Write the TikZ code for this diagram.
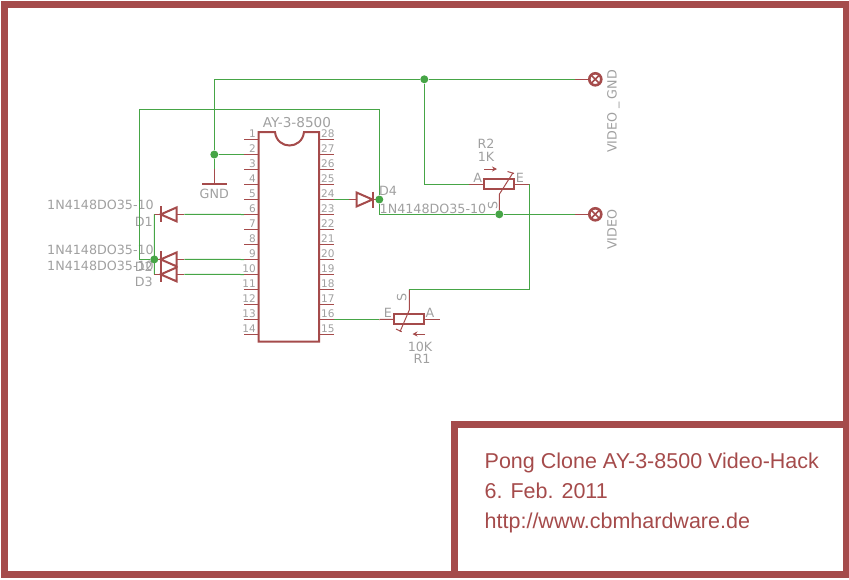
\documentclass[tikz,border=0pt]{standalone}
\usepackage{fontspec}
\setmainfont{Liberation Sans}
\newfontfamily\labelfont{DejaVu Sans}
\usetikzlibrary{arrows.meta}
\definecolor{symred}{RGB}{165,75,75}
\definecolor{netgreen}{RGB}{70,165,70}
\definecolor{txtgray}{RGB}{160,160,160}
\tikzset{
  wire/.style={netgreen,line width=1pt},
  lead/.style={symred,line width=1pt},
  body/.style={symred,line width=2pt},
  junction/.style={circle,fill=netgreen,draw=none,minimum size=8pt,inner sep=0pt},
  terminal/.style={circle,draw=symred,line width=2.6pt,minimum size=12pt,inner sep=0pt,
    path picture={\draw[symred,line width=1.6pt] (path picture bounding box.north west) -- (path picture bounding box.south east)
      (path picture bounding box.north east) -- (path picture bounding box.south west);}},
  name text/.style={txtgray,inner sep=0pt,font=\labelfont\fontsize{12.7}{14}\selectfont},
  pin text/.style={txtgray,inner sep=0pt,font=\labelfont\fontsize{10.5}{12}\selectfont},
  title text/.style={symred,inner sep=0pt,anchor=base west,font=\fontsize{21.5}{24}\selectfont},
  pics/diode/.style={code={
    \draw[body] (0,-8) -- (0,8);
    \draw[body,line join=miter] (0,0) -- (16,-7) -- (16,7) -- cycle;
  }},
}
\begin{document}
\begin{tikzpicture}[x=1pt,y=-1pt]
\useasboundingbox (0,0) rectangle (849,579);
% frame
\draw[symred,line width=6.5pt] (4.5,4.5) rectangle (846,574.5);
\draw[symred,line width=6.5pt] (454.5,574.5) -- (454.5,424.5) -- (846,424.5);
\node[title text] (title1) at (484.5,468) {Pong Clone AY-3-8500 Video-Hack};
\node[title text] (title2) at (484.5,498) {6. Feb. 2011};
\node[title text] (title3) at (484.5,528) {http://www.cbmhardware.de};

% IC
\draw[body] (258.5,341.5) -- (258.5,132) -- (275,132) .. controls (277,150) and (302,150) .. (304,132) -- (319,132) -- (319,341.5) -- cycle;
\node[name text,anchor=base,font=\labelfont\fontsize{13.6}{14}\selectfont] (ic) at (297,127.8) {AY-3-8500};
\foreach \n in {1,...,14} {
  \pgfmathtruncatemacro{\m}{29-\n}
  \pgfmathsetmacro{\y}{139.5+15*(\n-1)}
  \coordinate (p\n) at (244,\y);
  \coordinate (p\m) at (334,\y);
  \draw[lead] (p\n) -- (258.5,\y);
  \draw[lead] (p\m) -- (319,\y);
  \node[pin text,anchor=base east] (n\n) at (256,\y-2.2) {\n};
  \node[pin text,anchor=base west] (n\m) at (321,\y-2.2) {\m};
}

% diodes
\foreach \d/\y in {1/214.4,2/259.4,3/274.4} {
  \pic at (160.7,\y) {diode};
  \coordinate (d\d k) at (154.3,\y);
  \coordinate (d\d a) at (184.3,\y);
  \draw[lead] (d\d k) -- (160.7,\y);
  \draw[lead] (177,\y) -- (d\d a);
}
\pic[xscale=-1] at (372.5,199.5) {diode};
\coordinate (d4a) at (349,199.5);
\draw[lead] (d4a) -- (356.5,199.5);
\draw[lead] (372.5,199.5) -- (379.3,199.5);
\node[name text,anchor=base east] (v1) at (154,209.6) {1N4148DO35-10};
\node[name text,anchor=base east] (v2) at (154,254.6) {1N4148DO35-10};
\node[name text,anchor=base east] (v3) at (154,270.3) {1N4148DO35-10};
\node[name text,anchor=base east] (l1) at (153,226.6) {D1};
\node[name text,anchor=base east] (l2) at (153,271.6) {D2};
\node[name text,anchor=base east] (l3) at (153,286.6) {D3};
\node[name text,anchor=base west] (l4) at (379,195.6) {D4};
\node[name text,anchor=base west] (v4) at (379.5,213) {1N4148DO35-10};

% junctions
\node[junction] (j1) at (424.3,79.3) {};
\node[junction] (j2) at (214.3,154.5) {};
\node[junction] (j3) at (154.3,259.4) {};
\node[junction] (j4) at (379.3,199.5) {};
\node[junction] (j5) at (499.3,214.3) {};

% GND
\coordinate (gnd) at (214.3,169);
\draw[lead] (gnd) -- (214.3,184);
\draw[body] (202,184) -- (226.5,184);
\node[name text,anchor=base] (gndtxt) at (214.3,198.7) {GND};

% R2
\draw[body] (484,179.3) rectangle (514.3,189.3);
\coordinate (r2a) at (469.3,184.3);
\coordinate (r2e) at (529.3,184.3);
\draw[lead] (r2a) -- (484,184.3);
\draw[lead] (514.3,184.3) -- (r2e);
\draw[lead] (j5) -- (499.3,194.3) -- (513,172.7);
\draw[lead] (507.5,171.5) -- (514,173.5);
\draw[lead,-{Stealth[length=5pt,width=5pt]}] (484,169) -- (497,169);
\node[name text,anchor=base] (r2n) at (486,148.6) {R2};
\node[name text,anchor=base] (r2v) at (486,161.3) {1K};
\node[name text,anchor=base] (r2ta) at (477.7,182.3) {A};
\node[name text,anchor=base] (r2te) at (520,182.3) {E};
\node[name text,rotate=90,anchor=base] (r2ts) at (497.3,205) {S};

% R1
\draw[body] (394,314.3) rectangle (424.3,324);
\coordinate (r1e) at (379.3,319.5);
\coordinate (r1a) at (440,319.3);
\coordinate (r1s) at (409.3,289.3);
\draw[lead] (r1e) -- (394,319.3);
\draw[lead] (424.3,319.3) -- (r1a);
\draw[lead] (r1s) -- (409.3,310) -- (400,331.7);
\draw[lead] (396,329) -- (401.7,331.7);
\draw[lead,-{Stealth[length=5pt,width=5pt]}] (425,334) -- (412.5,334);
\node[name text,anchor=base] (r1v) at (420,351.6) {10K};
\node[name text,anchor=base] (r1n) at (422,363.9) {R1};
\node[name text,anchor=base] (r1te) at (388,317.3) {E};
\node[name text,anchor=base] (r1ta) at (430,317.3) {A};
\node[name text,rotate=90,anchor=base] (r1ts) at (406.3,297.3) {S};

% terminals
\node[terminal] (vgnd) at (595.3,79.3) {};
\node[terminal] (vid) at (595.3,214.3) {};
\coordinate (vgndw) at (575,79.3);
\coordinate (vidw) at (575,214.3);
\draw[lead] (vgndw) -- (vgnd);
\draw[lead] (vidw) -- (vid);
\node[name text,rotate=90,anchor=base west] (vgndtxt) at (616.6,153) {VIDEO\kern4pt\_\kern3pt GND};
\node[name text,rotate=90,anchor=base west] (vidtxt) at (616.6,250) {VIDEO};

% nets
\draw[wire] (j2) -- (214.3,79.3) -- (j1) -- (vgndw);
\draw[wire] (j2) -- (p2);
\draw[wire] (j2) -- (gnd);
\draw[wire] (j1) |- (r2a);
\draw[wire] (j3) -| (139.3,109.3) -| (j4);
\draw[wire] (d1k) -- (d3k) (d3a) -- (p10) (d2a) -- (p9) (d1a) -- (p6);
\draw[wire] (p24) -- (d4a);
\draw[wire] (j4) |- (j5) -- (vidw);
\draw[wire] (r2e) |- (r1s);
\draw[wire] (p16) -- (r1e);
\end{tikzpicture}
\end{document}
